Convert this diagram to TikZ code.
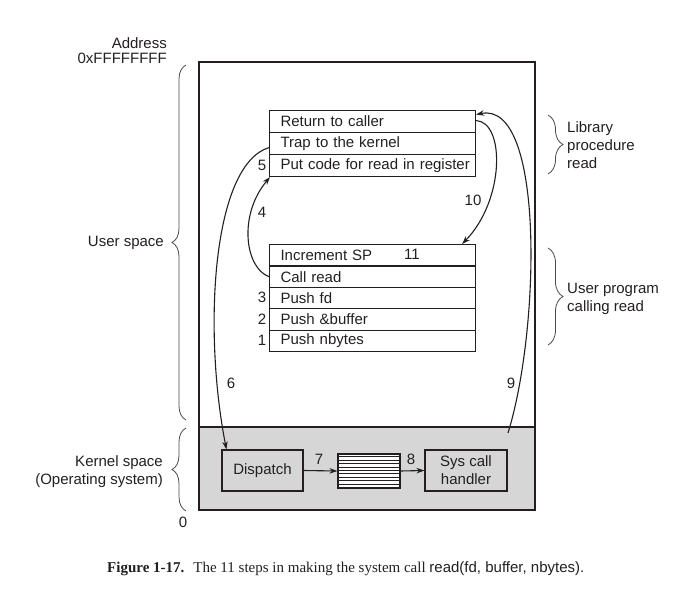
\documentclass[tikz,border=0pt]{standalone}
\usepackage{fontspec}
\setmainfont{Liberation Sans}
\newfontfamily\capserif{Liberation Serif}
\usetikzlibrary{arrows.meta,decorations.pathreplacing,calc}
\definecolor{ink}{HTML}{231F20}
\definecolor{kernelgray}{HTML}{D6D6D6}
\definecolor{bracegray}{HTML}{4A4A4A}

\begin{document}
\begin{tikzpicture}[x=1pt,y=-1pt,
  font=\fontsize{15}{18}\selectfont, text=ink,
  row/.style={draw=ink, line width=1.1pt, anchor=north west,
    minimum width=206pt, minimum height=22pt, inner xsep=11pt, inner ysep=0pt,
    text width=184pt, align=left},
  urow/.style={row, minimum height=21.4pt},
  kbox/.style={draw=ink, line width=1.1pt, align=center, inner sep=0pt},
  flow/.style={draw=ink, line width=1.1pt, -{Stealth[length=8pt,width=5.5pt]}},
  lbrace/.style={draw=bracegray, line width=0.8pt, decorate,
    decoration={brace, amplitude=14pt}},
  rbrace/.style={draw=bracegray, line width=0.8pt, decorate,
    decoration={brace, amplitude=15pt}},
  numlabel/.style={inner sep=0pt},
  sidelabel/.style={inner sep=0pt, align=left, anchor=west},
  leftlabel/.style={inner sep=0pt, align=right, anchor=east}
]
\useasboundingbox (0,0) rectangle (699,597);

% address space: user part and grey kernel part
\fill[kernelgray] (199,427) rectangle (535,510);
\draw[ink, line width=1.1pt] (199,427) -- (535,427);
\draw[ink, line width=1.3pt] (199,62) rectangle (535,510);

% library procedure read
\node[row] (ret)  at (269,110) {Return to caller};
\node[row] (trap) at (269,132) {Trap to the kernel};
\node[row] (put)  at (269,154) {\mbox{Put code for read in register}};

% user program calling read
\node[urow] (incsp)   at (269,244)   {Increment SP};
\node[urow] (callr)   at (269,265.4) {Call read};
\node[urow] (pushfd)  at (269,286.8) {Push fd};
\node[urow] (pushbuf) at (269,308.2) {Push \&buffer};
\node[urow] (pushnb)  at (269,329.6) {Push nbytes};

% kernel side
\node[kbox, minimum width=81pt, minimum height=41pt] (disp) at (262.5,470.5) {Dispatch};
\node[kbox, fill=white, minimum width=62pt, minimum height=34pt] (tbl) at (369,471) {};
\foreach \k in {1,...,9}
  \draw[ink, line width=0.8pt] ($(tbl.north west)+(0,3.4*\k)$) -- ($(tbl.north east)+(0,3.4*\k)$);
\node[kbox, minimum width=82pt, minimum height=41pt] (handler) at (466,470.5) {Sys call\\handler};

% steps
\draw[flow] (disp.east) -- (tbl.west);
\draw[flow] (tbl.east) -- (handler.west);
\draw[flow] (callr.west) .. controls (245,268) and (238,215) .. ([xshift=1pt]put.south west);
\draw[flow] ([yshift=-4pt]trap.west) .. controls (212,165) and (203,330) .. ([xshift=5pt]disp.north west);
\coordinate (trapexit) at (508,433);
\draw[flow] (trapexit) .. controls (540,330) and (545,100) .. ([yshift=7pt]ret.east);
\draw[flow] ([yshift=1pt]ret.east) .. controls (505,122) and (505,200) .. ([xshift=-14pt]incsp.north east);

% step numbers
\node[numlabel] (n1)  at (262,340.3) {1};
\node[numlabel] (n2)  at (262,318.9) {2};
\node[numlabel] (n3)  at (262,297.5) {3};
\node[numlabel] (n4)  at (262,212)   {4};
\node[numlabel] (n5)  at (262,165)   {5};
\node[numlabel] (n6)  at (231,383)   {6};
\node[numlabel] (n7)  at (319,459)   {7};
\node[numlabel] (n8)  at (411,459)   {8};
\node[numlabel] (n9)  at (511,383)   {9};
\node[numlabel] (n10) at (473,200)   {10};
\node[numlabel] (n11) at (412,254)   {11};

% address labels and braces on the left
\node[leftlabel] (addr) at (167,43) {Address};
\node[leftlabel] (top)  at (167,58) {0xFFFFFFFF};
\node[numlabel]  (zero) at (183,522) {0};
\draw[lbrace] (186,420) -- (186,65);
\node[leftlabel] (user) at (164,243) {User space};
\draw[lbrace] (186,511) -- (186,428);
\node[leftlabel] (kern) at (163,472) {Kernel space\\(Operating system)};

% braces on the right
\draw[rbrace] (548,115) -- (548,174);
\node[sidelabel] (lib) at (567,145) {Library\\procedure\\read};
\draw[rbrace] (548,248) -- (548,345);
\node[sidelabel] (prog) at (567,299) {User program\\calling read};

% caption
\node[anchor=base west, inner sep=0pt] (cap) at (107,572)
  {{\capserif\bfseries Figure 1-17.}\hspace{0.6em}{\capserif The 11 steps in making the system call }read(fd, buffer, nbytes).};
\end{tikzpicture}
\end{document}
